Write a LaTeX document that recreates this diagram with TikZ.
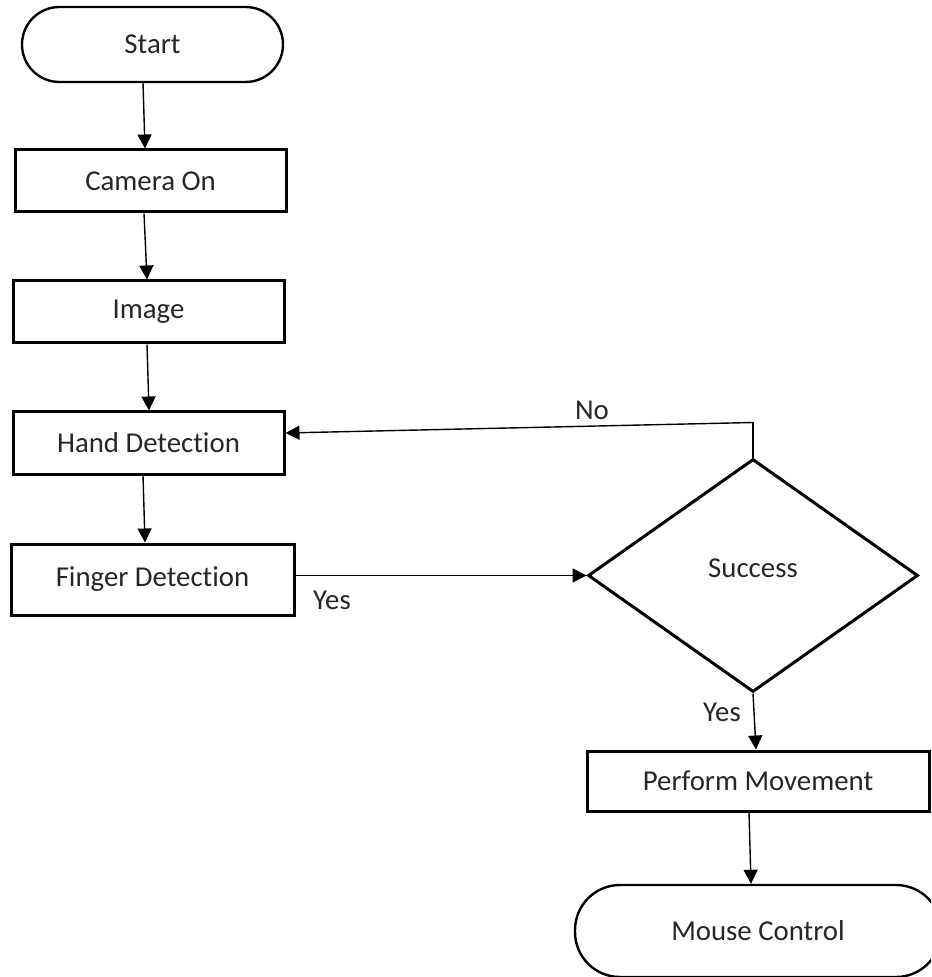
\documentclass[tikz,border=0pt]{standalone}
\usepackage{fontspec}
\setmainfont{Carlito}[Ligatures={NoCommon,NoRare,NoContextual},Contextuals=NoAlternate]
\usetikzlibrary{arrows.meta,shapes.geometric}
\begin{document}
\begin{tikzpicture}[x=0.5pt,y=-0.5pt,
  every node/.style={font=\fontsize{14.4}{17}\selectfont, text=black!85},
  box/.style={draw=black, line width=1.5pt, rectangle, inner sep=0pt},
  term/.style={draw=black, line width=1.2pt, rectangle, inner sep=0pt},
  arr/.style={draw=black, line width=0.7pt, -{Triangle[length=7pt,width=7pt]}},
  plain/.style={draw=black, line width=0.7pt},
  lbl/.style={inner sep=0pt}]
\useasboundingbox (0,0) rectangle (931,977);
\clip (0,0) rectangle (931,977);
\node[term, rounded corners=18.7pt, minimum width=130.5pt, minimum height=37.5pt] (start) at (152.5,44.5) {Start};
\node[box, minimum width=135.5pt, minimum height=31pt] (cam) at (150.5,181) {Camera On};
\node[box, minimum width=135.5pt, minimum height=31pt] (img) at (148.5,312) {Image};
\node[box, minimum width=135.5pt, minimum height=31pt] (hand) at (148.5,443) {Hand Detection};
\node[box, minimum width=141.5pt, minimum height=35.5pt] (finger) at (152.5,579.5) {\raisebox{3pt}{Finger Detection}};
\node[diamond, draw=black, line width=1.5pt, inner sep=0pt, minimum width=165pt, minimum height=116.5pt] (dia) at (753,575.5) {\raisebox{7pt}{Success}};
\node[box, minimum width=171pt, minimum height=30pt] (perf) at (758,781) {Perform Movement};
\node[term, rounded corners=22.5pt, minimum width=183pt, minimum height=46pt] (mouse) at (758,931) {Mouse Control};

\draw[arr] ([xshift=-4.75pt]start.south) -- ([xshift=-2.75pt]cam.north);
\draw[arr] ([xshift=-3.25pt]cam.south) -- ([xshift=-0.75pt]img.north);
\draw[arr] ([xshift=-0.75pt]img.south) -- ([xshift=0.25pt]hand.north);
\draw[arr] ([xshift=-2.75pt]hand.south) -- ([xshift=-3.75pt]finger.north);
\draw[arr] (finger.east |- dia.west) -- (dia.west);
\path (dia.north) ++(0,-35) coordinate (nocorner);
\draw[plain] (dia.north) -- (nocorner);
\draw[arr] (nocorner) -- ([yshift=5pt]hand.east);
\draw[arr] (dia.south) -- ([xshift=-1pt]perf.north);
\draw[arr] ([xshift=-4.5pt]perf.south) -- ([xshift=-3.5pt]mouse.north);

\node[lbl] (no) at (592,410) {No};
\node[lbl] (yes1) at (332,600) {Yes};
\node[lbl] (yes2) at (722,712) {Yes};
\end{tikzpicture}
\end{document}
